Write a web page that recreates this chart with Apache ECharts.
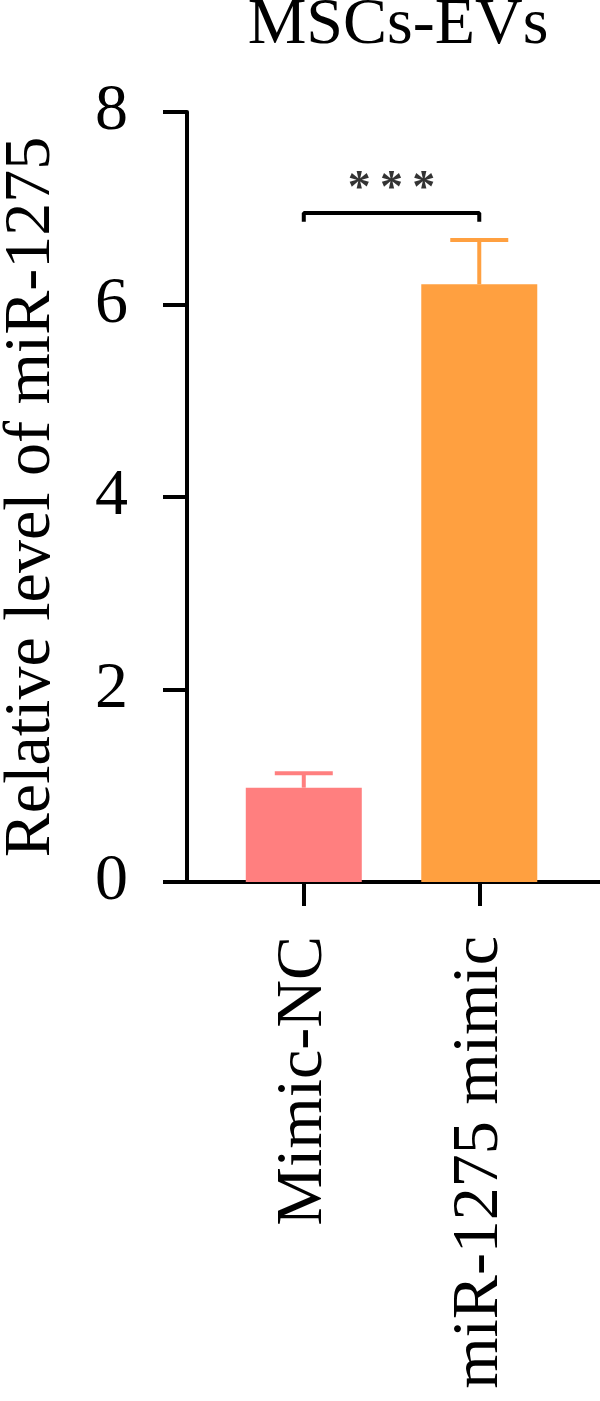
<!DOCTYPE html>
<html><head><meta charset="utf-8">
<script src="https://cdn.jsdelivr.net/npm/echarts@6/dist/echarts.min.js"></script>
<style>html,body{margin:0;padding:0;background:#fff}#c{width:600px;height:1401px}</style>
</head><body><div id="c"></div>
<script>
var categories = ['Mimic-NC', 'miR-1275 mimic'];
var means = [0.98, 6.21];
var errors = [0.15, 0.46];
var colors = ['#FF7F7F', '#FFA040'];
var yTicks = [0, 2, 4, 6, 8];
var title = 'MSCs-EVs';
var yName = 'Relative level of miR-1275';
var sigLabel = '*\u2009*\u2009*';
var sigY = 6.95;
var sigTick = 0.09;

var FONT = 'Liberation Serif';
var FS = 66;
var positions = categories.map(function(c, i){ return i + 1; });
var chart = echarts.init(document.getElementById('c'), null, {renderer: 'canvas'});
chart.setOption({
  animation: false,
  title: {text: title, left: 393, top: -12, textAlign: 'center',
    textStyle: {fontFamily: FONT, fontSize: FS, fontWeight: 'normal', color: '#000'}},
  grid: {left: 187, right: 0, top: 112, bottom: 519, containLabel: false, outerBoundsMode: 'none'},
  xAxis: {
    type: 'value', min: 0.3345, max: 2.688,
    splitLine: {show: false},
    axisLine: {show: true, lineStyle: {color: '#000', width: 4}},
    axisTick: {show: true, customValues: positions, length: 24, lineStyle: {color: '#000', width: 4}},
    axisLabel: {show: true, customValues: positions, rotate: 90, margin: 54,
      fontFamily: FONT, fontSize: FS, color: '#000',
      formatter: function(v){ return categories[Math.round(v) - 1] || ''; }}
  },
  yAxis: {
    type: 'value', min: 0, max: 8, interval: 2,
    name: yName, nameLocation: 'middle', nameGap: 122, nameRotate: 90,
    nameTextStyle: {fontFamily: FONT, fontSize: FS, color: '#000'},
    splitLine: {show: false},
    axisLine: {show: true, lineStyle: {color: '#000', width: 4}},
    axisTick: {show: true, length: 24, lineStyle: {color: '#000', width: 4}},
    axisLabel: {margin: 59, fontFamily: FONT, fontSize: FS, color: '#000',
      formatter: function(v){ return yTicks.indexOf(v) >= 0 ? String(v) : ''; }}
  },
  series: [
    {
      type: 'custom', z: 1,
      data: positions.map(function(p, i){ return [p, means[i], means[i] + errors[i], i]; }),
      renderItem: function(params, api){
        var x = api.value(0), m = api.value(1), t = api.value(2), i = api.value(3);
        var p0 = api.coord([x, m]), p1 = api.coord([x, t]);
        var hw = 29;
        var st = {stroke: colors[i], lineWidth: 4};
        return {type: 'group', children: [
          {type: 'line', shape: {x1: p0[0], y1: p0[1], x2: p1[0], y2: p1[1]}, style: st},
          {type: 'line', shape: {x1: p1[0] - hw, y1: p1[1], x2: p1[0] + hw, y2: p1[1]}, style: st}
        ]};
      }
    },
    {
      type: 'bar', z: 2, barWidth: 116,
      data: positions.map(function(p, i){ return {value: [p, means[i]], itemStyle: {color: colors[i]}}; })
    },
    {
      type: 'line', z: 3, symbol: 'none',
      lineStyle: {color: '#000', width: 4},
      data: [[positions[0], sigY - sigTick], [positions[0], sigY], [positions[1], sigY], [positions[1], sigY - sigTick]]
    },
    {
      type: 'scatter', z: 3, symbolSize: 0, silent: true,
      data: [[(positions[0] + positions[1]) / 2, sigY]],
      label: {show: true, position: 'top', distance: 0, formatter: sigLabel,
        fontFamily: FONT, fontSize: 46, fontWeight: 'bold', color: '#000'}
    }
  ]
});
</script></body></html>
